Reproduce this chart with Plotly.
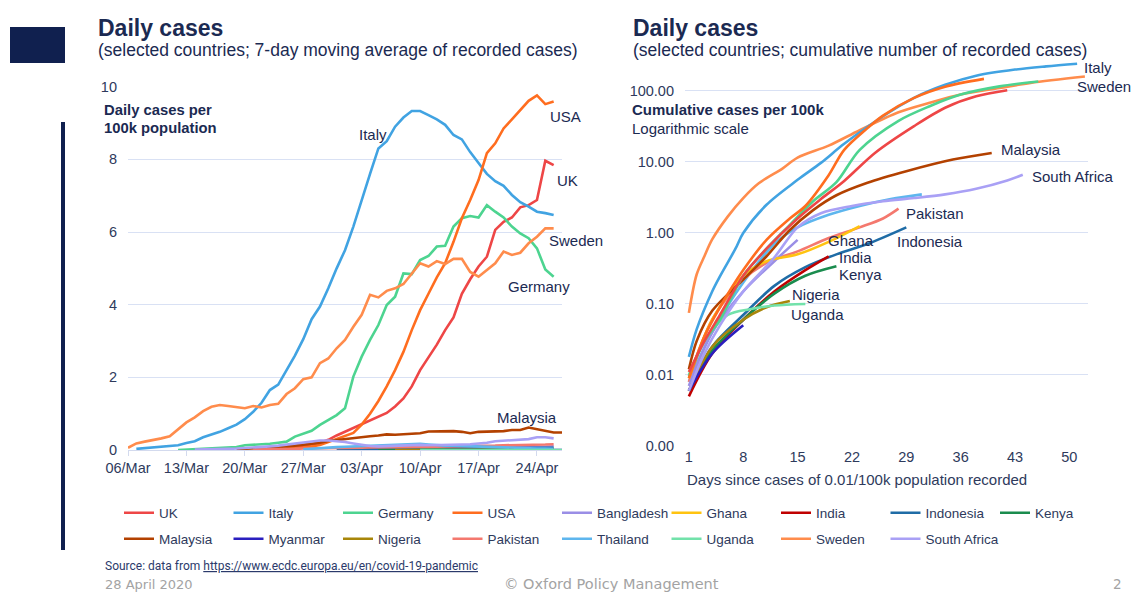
import pandas as pd
import plotly.graph_objects as go

W, H = 1131, 593

countries = ["UK", "Italy", "Germany", "USA", "Bangladesh", "Ghana", "India", "Indonesia", "Kenya",
             "Malaysia", "Myanmar", "Nigeria", "Pakistan", "Thailand", "Uganda", "Sweden", "South Africa"]
colors = {"UK": "#EE4646", "Italy": "#41A3E2", "Germany": "#4DD490", "USA": "#FF6D1F",
          "Bangladesh": "#9A8EE6", "Ghana": "#FFC310", "India": "#C00000", "Indonesia": "#1F6CA6",
          "Kenya": "#1A8C4E", "Malaysia": "#B34100", "Myanmar": "#2A1FBF", "Nigeria": "#A8860A",
          "Pakistan": "#F4786E", "Thailand": "#5EB6EE", "Uganda": "#72E2AA", "Sweden": "#FF8C4C",
          "South Africa": "#A9A0F5"}

# ---------- Left chart: daily cases per 100k (7-day moving average) ----------
daily_start = {"Italy": "2020-03-07", "Sweden": "2020-03-06", "Germany": "2020-03-12", "USA": "2020-03-23",
               "UK": "2020-03-25", "Malaysia": "2020-03-19", "South Africa": "2020-03-14",
               "Thailand": "2020-03-27", "Pakistan": "2020-03-21", "Bangladesh": "2020-04-05",
               "Indonesia": "2020-03-31", "Ghana": "2020-04-05", "India": "2020-04-05", "Kenya": "2020-04-05",
               "Nigeria": "2020-04-07", "Uganda": "2020-04-10", "Myanmar": "2020-04-13"}
daily_italy = [0.03, 0.05, 0.06, 0.08, 0.09, 0.13, 0.19, 0.24, 0.35, 0.42, 0.5, 0.6, 0.7, 0.85, 1.05, 1.3,
               1.65, 1.8, 2.2, 2.6, 3.05, 3.6, 3.95, 4.45, 5.0, 5.5, 6.15, 6.9, 7.6, 8.3, 8.5, 8.9, 9.15,
               9.33, 9.33, 9.22, 9.1, 8.95, 8.67, 8.55, 8.2, 7.9, 7.6, 7.4, 7.27, 7.02, 6.82, 6.7, 6.56,
               6.52, 6.47]
daily_sweden = [0.06, 0.18, 0.23, 0.27, 0.32, 0.38, 0.58, 0.76, 0.9, 1.07, 1.19, 1.24, 1.21, 1.19, 1.15,
                1.21, 1.17, 1.24, 1.27, 1.54, 1.7, 1.95, 2.0, 2.39, 2.52, 2.8, 3.03, 3.39, 3.72, 4.27, 4.2,
                4.38, 4.45, 4.57, 4.86, 5.14, 5.05, 5.2, 5.12, 5.26, 5.26, 4.9, 4.77, 4.95, 5.14, 5.46, 5.37,
                5.43, 5.69, 5.87, 6.1, 6.1]
daily_germany = [0.0, 0.01, 0.02, 0.03, 0.04, 0.05, 0.06, 0.08, 0.13, 0.14, 0.15, 0.17, 0.2, 0.23, 0.37,
                 0.44, 0.53, 0.69, 0.83, 0.96, 1.15, 2.02, 2.57, 3.03, 3.44, 3.99, 4.22, 4.86, 4.84, 5.23,
                 5.34, 5.6, 5.62, 6.15, 6.38, 6.44, 6.4, 6.74, 6.56, 6.4, 6.15, 5.96, 5.83, 5.55, 4.97, 4.77]
daily_usa = [0.01, 0.02, 0.03, 0.05, 0.07, 0.1, 0.14, 0.22, 0.3, 0.38, 0.47, 0.7, 1.0, 1.35, 1.75, 2.2,
             2.7, 3.3, 3.85, 4.3, 4.75, 5.14, 5.73, 6.38, 6.88, 7.43, 8.17, 8.44, 8.85, 9.1, 9.36, 9.61,
             9.76, 9.52, 9.59]
daily_uk = [0.05, 0.08, 0.1, 0.15, 0.2, 0.28, 0.4, 0.5, 0.6, 0.7, 0.8, 0.92, 1.02, 1.2, 1.42, 1.75, 2.2,
            2.55, 2.9, 3.3, 3.65, 4.3, 4.7, 5.05, 5.32, 6.06, 6.28, 6.4, 6.68, 6.74, 6.88, 7.96, 7.84]
daily_malaysia = [0.02, 0.03, 0.04, 0.05, 0.06, 0.08, 0.1, 0.12, 0.14, 0.17, 0.2, 0.25, 0.28, 0.31, 0.34,
                  0.36, 0.38, 0.4, 0.43, 0.42, 0.44, 0.44, 0.46, 0.51, 0.52, 0.52, 0.52, 0.5, 0.46, 0.5,
                  0.5, 0.52, 0.52, 0.55, 0.55, 0.62, 0.58, 0.52, 0.48, 0.48]
daily_southafrica = [0.01, 0.01, 0.02, 0.02, 0.03, 0.04, 0.05, 0.06, 0.08, 0.1, 0.12, 0.15, 0.18, 0.22,
                     0.25, 0.26, 0.26, 0.25, 0.22, 0.18, 0.14, 0.11, 0.1, 0.11, 0.12, 0.13, 0.14, 0.14,
                     0.13, 0.13, 0.14, 0.14, 0.15, 0.16, 0.17, 0.2, 0.24, 0.25, 0.26, 0.27, 0.3, 0.35,
                     0.35, 0.32]
daily_thailand = [0.02, 0.04, 0.05, 0.07, 0.08, 0.09, 0.1, 0.11, 0.12, 0.14, 0.15, 0.16, 0.17, 0.18, 0.17,
                  0.15, 0.13, 0.12, 0.12, 0.11, 0.1, 0.1, 0.09, 0.08, 0.07, 0.06, 0.05, 0.05, 0.04, 0.04,
                  0.03]
daily_pakistan = [0.01, 0.01, 0.02, 0.02, 0.03, 0.03, 0.04, 0.04, 0.05, 0.05, 0.05, 0.06, 0.06, 0.06, 0.07,
                  0.07, 0.07, 0.08, 0.08, 0.08, 0.09, 0.09, 0.09, 0.1, 0.1, 0.1, 0.11, 0.11, 0.12, 0.12,
                  0.13, 0.13, 0.14, 0.14, 0.15, 0.15, 0.16]
daily_bangladesh = [0.0, 0.0, 0.0, 0.01, 0.01, 0.01, 0.01, 0.02, 0.02, 0.03, 0.03, 0.04, 0.05, 0.05, 0.06,
                    0.07, 0.07, 0.08, 0.08, 0.09, 0.09, 0.1]
daily_indonesia = [0.01, 0.01, 0.02, 0.02, 0.02, 0.03, 0.03, 0.03, 0.03, 0.03, 0.04, 0.04, 0.04, 0.04, 0.04,
                   0.05, 0.05, 0.05, 0.05, 0.05, 0.05, 0.05, 0.06, 0.06, 0.06, 0.06, 0.06]
daily_ghana = [0.0, 0.01, 0.01, 0.01, 0.01, 0.01, 0.02, 0.02, 0.02, 0.02, 0.02, 0.02, 0.03, 0.03, 0.03, 0.03,
               0.03, 0.04, 0.04, 0.04, 0.04, 0.04]
daily_india = [0.0, 0.0, 0.0, 0.0, 0.0, 0.0, 0.01, 0.01, 0.01, 0.01, 0.01, 0.01, 0.01, 0.01, 0.01, 0.01,
               0.01, 0.01, 0.01, 0.01, 0.01, 0.01]
daily_kenya = [0.0, 0.0, 0.0, 0.01, 0.01, 0.01, 0.01, 0.01, 0.01, 0.01, 0.01, 0.01, 0.01, 0.01, 0.01, 0.01,
               0.01, 0.01, 0.01, 0.01, 0.01, 0.01]
daily_nigeria = [0.0, 0.0, 0.0, 0.0, 0.0, 0.0, 0.0, 0.0, 0.0, 0.0, 0.01, 0.01, 0.01, 0.01, 0.01, 0.01, 0.01,
                 0.01, 0.01, 0.01]
daily_uganda = [0.0, 0.0, 0.0, 0.0, 0.0, 0.0, 0.0, 0.0, 0.0, 0.0, 0.0, 0.0, 0.0, 0.0, 0.0, 0.0, 0.0, 0.0]
daily_myanmar = [0.0, 0.0, 0.0, 0.0, 0.0, 0.0, 0.0, 0.0, 0.0, 0.0, 0.0, 0.0, 0.0, 0.0, 0.0]
daily = {"Italy": daily_italy, "Sweden": daily_sweden, "Germany": daily_germany, "USA": daily_usa,
         "UK": daily_uk, "Malaysia": daily_malaysia, "South Africa": daily_southafrica,
         "Thailand": daily_thailand, "Pakistan": daily_pakistan, "Bangladesh": daily_bangladesh,
         "Indonesia": daily_indonesia, "Ghana": daily_ghana, "India": daily_india, "Kenya": daily_kenya,
         "Nigeria": daily_nigeria, "Uganda": daily_uganda, "Myanmar": daily_myanmar}

# ---------- Right chart: cumulative cases per 100k (log) ----------
cum_days = {
    "Italy": [1, 2, 4, 5, 7, 8, 11, 15, 18, 21, 26, 30, 34, 38, 43, 47, 51],
    "Sweden": [1, 2, 3, 4, 6, 8, 10, 13, 15, 19, 23, 28, 32, 36, 41, 45, 52],
    "USA": [1, 3, 5, 8, 11, 14, 16, 19, 21, 24, 26, 30, 34, 39],
    "Germany": [1, 3, 5, 8, 11, 14, 17, 20, 23, 28, 32, 36, 41, 46],
    "UK": [1, 3, 5, 8, 11, 15, 18, 21, 25, 30, 34, 38, 42],
    "Malaysia": [1, 2, 4, 8, 11, 14, 17, 20, 24, 29, 35, 40],
    "South Africa": [1, 3, 5, 8, 12, 15, 18, 22, 26, 30, 34, 38, 42, 44],
    "Thailand": [1, 4, 8, 12, 15, 19, 23, 27, 31],
    "Pakistan": [1, 4, 8, 11, 15, 19, 23, 26, 28],
    "Ghana": [1, 4, 8, 11, 15, 19, 23],
    "Indonesia": [1, 4, 8, 12, 16, 20, 24, 29],
    "India": [1, 4, 8, 12, 16, 19],
    "Kenya": [1, 4, 8, 12, 16, 20],
    "Nigeria": [1, 4, 8, 11, 14],
    "Uganda": [1, 3, 6, 9, 12, 16],
    "Bangladesh": [1, 4, 8, 12, 15],
    "Myanmar": [1, 4, 8],
}
cum_vals = {
    "Italy": [0.018, 0.044, 0.15, 0.245, 0.6, 1.0, 2.5, 5.6, 9.7, 18, 44, 80, 122, 164, 200, 222, 242],
    "Sweden": [0.075, 0.26, 0.47, 0.81, 1.7, 3.1, 5.0, 8.0, 11.5, 17, 28, 50, 68, 89, 110, 130, 160],
    "USA": [0.009, 0.035, 0.09, 0.3, 0.8, 1.6, 2.4, 6.5, 14.8, 30, 45, 80, 115, 148],
    "Germany": [0.0095, 0.03, 0.06, 0.25, 0.6, 1.3, 2.8, 5.2, 14.8, 38, 61, 89, 116, 136],
    "UK": [0.011, 0.03, 0.07, 0.25, 0.6, 1.6, 3.0, 5.4, 13.5, 32, 58, 84, 102],
    "Malaysia": [0.012, 0.03, 0.08, 0.22, 0.47, 1.1, 2.1, 3.4, 5.1, 7.4, 10.8, 13.4],
    "South Africa": [0.006, 0.02, 0.05, 0.15, 0.45, 1.2, 1.9, 2.4, 2.8, 3.1, 3.5, 4.2, 5.5, 6.6],
    "Thailand": [0.008, 0.04, 0.2, 0.7, 1.2, 1.8, 2.4, 3.0, 3.5],
    "Pakistan": [0.008, 0.06, 0.22, 0.38, 0.55, 0.85, 1.2, 1.6, 2.2],
    "Ghana": [0.009, 0.06, 0.25, 0.4, 0.5, 0.75, 1.25],
    "Indonesia": [0.006, 0.025, 0.07, 0.18, 0.33, 0.5, 0.7, 1.2],
    "India": [0.005, 0.02, 0.06, 0.15, 0.3, 0.47],
    "Kenya": [0.006, 0.022, 0.06, 0.14, 0.25, 0.34],
    "Nigeria": [0.006, 0.025, 0.06, 0.09, 0.11],
    "Uganda": [0.01, 0.03, 0.07, 0.085, 0.095, 0.10],
    "Bangladesh": [0.007, 0.04, 0.15, 0.4, 0.8],
    "Myanmar": [0.006, 0.02, 0.05],
}

left_ticks = ["06/Mar", "13/Mar", "20/Mar", "27/Mar", "03/Apr", "10/Apr", "17/Apr", "24/Apr"]
right_xticks = [1, 8, 15, 22, 29, 36, 43, 50]
right_yticks = [0.001, 0.01, 0.1, 1, 10, 100]
right_ylabels = ["0.00", "0.01", "0.10", "1.00", "10.00", "100.00"]

NAVY = "#1B2A52"
TICK = "#2E3A5C"
FONT = "Liberation Sans, Arial, sans-serif"
FOOT = "DejaVu Sans, Lato, sans-serif"

fig = go.Figure()

row1 = countries[:9]
draw_order = ["Thailand", "Pakistan", "Bangladesh", "Indonesia", "Ghana", "India", "Kenya", "Nigeria",
              "Uganda", "Myanmar", "South Africa", "Malaysia", "Sweden", "Italy", "Germany", "USA", "UK"]
# left chart traces, in legend order
for c in countries:
    x = pd.date_range(daily_start[c], periods=len(daily[c]), freq="D")
    extra = dict(legendwidth=100) if c in ("South Africa", "Kenya") else {}
    fig.add_trace(go.Scatter(x=x, y=daily[c], mode="lines", name=c,
                             legend="legend" if c in row1 else "legend2",
                             line=dict(color=colors[c], width=2.6), xaxis="x", yaxis="y",
                             hoverinfo="skip", **extra))
# right chart traces
for c in draw_order:
    fig.add_trace(go.Scatter(x=cum_days[c], y=cum_vals[c], mode="lines", name=c,
                             showlegend=False, line=dict(color=colors[c], width=2.6, shape="spline",
                                                         smoothing=0.9),
                             xaxis="x2", yaxis="y2", hoverinfo="skip"))

def px(x):
    return x / W

def py(y):
    return 1 - y / H

leg_common = dict(orientation="h", xanchor="left", yanchor="middle", traceorder="normal",
                  xref="container", yref="container",
                  entrywidth=64.5, entrywidthmode="pixels", font=dict(size=13.5, color=TICK),
                  bgcolor="rgba(0,0,0,0)", itemwidth=30, borderwidth=0)

TF = dict(size=14.5, color=TICK)
fig.update_layout(
    template="none",
    width=W, height=H, margin=dict(l=0, r=0, t=0, b=0, pad=0, autoexpand=False),
    paper_bgcolor="white", plot_bgcolor="white",
    font=dict(family=FONT, color=TICK, size=13),
    xaxis=dict(domain=[px(128), px(562)], type="date", automargin=False,
               range=["2020-03-06", "2020-04-27"],
               tickvals=pd.date_range("2020-03-06", periods=8, freq="7D"), ticktext=left_ticks,
               showgrid=False, showline=True, linecolor="#D3DAEE", linewidth=1,
               ticks="outside", ticklen=5, tickcolor="#D3DAEE", tickfont=TF,
               zeroline=False),
    yaxis=dict(domain=[py(450), py(86.7)], range=[0, 10], tickvals=[0, 2, 4, 6, 8, 10], automargin=False,
               showgrid=True, gridcolor="#D9E1F4", gridwidth=1, zeroline=False, showline=False,
               ticks="", tickfont=TF, ticklabelstandoff=10),
    xaxis2=dict(domain=[px(685), px(1088)], range=[0.5, 52.4], tickvals=right_xticks, automargin=False,
                showgrid=False, zeroline=False, showline=False, ticks="",
                tickfont=TF, anchor="y2"),
    yaxis2=dict(domain=[py(446), py(59)], type="log", range=[-3, 2.45], tickvals=right_yticks,
                ticktext=right_ylabels, showgrid=True, gridcolor="#D9E1F4", gridwidth=1, zeroline=False,
                showline=False, ticks="", tickfont=TF, ticklabelstandoff=10,
                anchor="x2", automargin=False),
    legend=dict(x=px(119), y=py(513), **leg_common),
    legend2=dict(x=px(119), y=py(539), **leg_common),
)

ann = []
def text(x, y, s, size=15, color=NAVY, bold=False, xanchor="left", family=FONT):
    ann.append(dict(x=px(x), y=py(y), xref="paper", yref="paper", text=("<b>%s</b>" % s) if bold else s,
                    showarrow=False, xanchor=xanchor, yanchor="middle",
                    font=dict(size=size, color=color, family=family)))

# titles
text(96, 28, "Daily cases", size=23, bold=True)
text(96, 50, "(selected countries; 7-day moving average of recorded cases)", size=17.5)
text(631, 28, "Daily cases", size=23, bold=True)
text(631, 50, "(selected countries; cumulative number of recorded cases)", size=17.5)
# axis captions
text(102, 110, "Daily cases per", size=14.8, bold=True)
text(102, 128, "100k population", size=14.8, bold=True)
text(630, 110, "Cumulative cases per 100k", size=15, bold=True)
text(630, 129, "Logarithmic scale", size=15)
text(685, 479, "Days since cases of 0.01/100k population recorded", size=15, color=TICK)
# left labels
text(357, 134, "Italy")
text(548, 117, "USA")
text(555, 180, "UK")
text(547, 240, "Sweden")
text(506, 287, "Germany")
text(495, 417, "Malaysia")
# right labels
text(1082, 68, "Italy")
text(1075, 87, "Sweden")
text(999, 149, "Malaysia")
text(1030, 176, "South Africa")
text(904, 213, "Pakistan")
text(895, 241, "Indonesia")
text(826, 240, "Ghana")
text(837, 258, "India")
text(837, 274, "Kenya")
text(790, 294, "Nigeria")
text(789, 314, "Uganda")
# footer
text(103, 566, 'Source: data from <u>https://www.ecdc.europa.eu/en/covid-19-pandemic</u>', size=12,
     color="#2B3A6B", family="Liberation Sans Narrow, Roboto, sans-serif")
text(103, 584, "28 April 2020", size=13, color="#A3A3A3", family=FOOT)
text(611, 584, "© Oxford Policy Management", size=14.5, color="#A3A3A3", xanchor="center", family=FOOT)
text(1117, 584, "2", size=13.5, color="#A3A3A3", xanchor="center", family=FOOT)
fig.update_layout(annotations=ann)

fig.update_layout(shapes=[
    dict(type="rect", xref="paper", yref="paper", x0=px(10), x1=px(65), y0=py(63), y1=py(27),
         fillcolor="#10204F", line=dict(width=0)),
    dict(type="rect", xref="paper", yref="paper", x0=px(61), x1=px(65), y0=py(550), y1=py(122),
         fillcolor="#10204F", line=dict(width=0)),
])

fig.write_html("out.html", config={"displayModeBar": False},
               post_script="document.body.style.margin='0px';")
